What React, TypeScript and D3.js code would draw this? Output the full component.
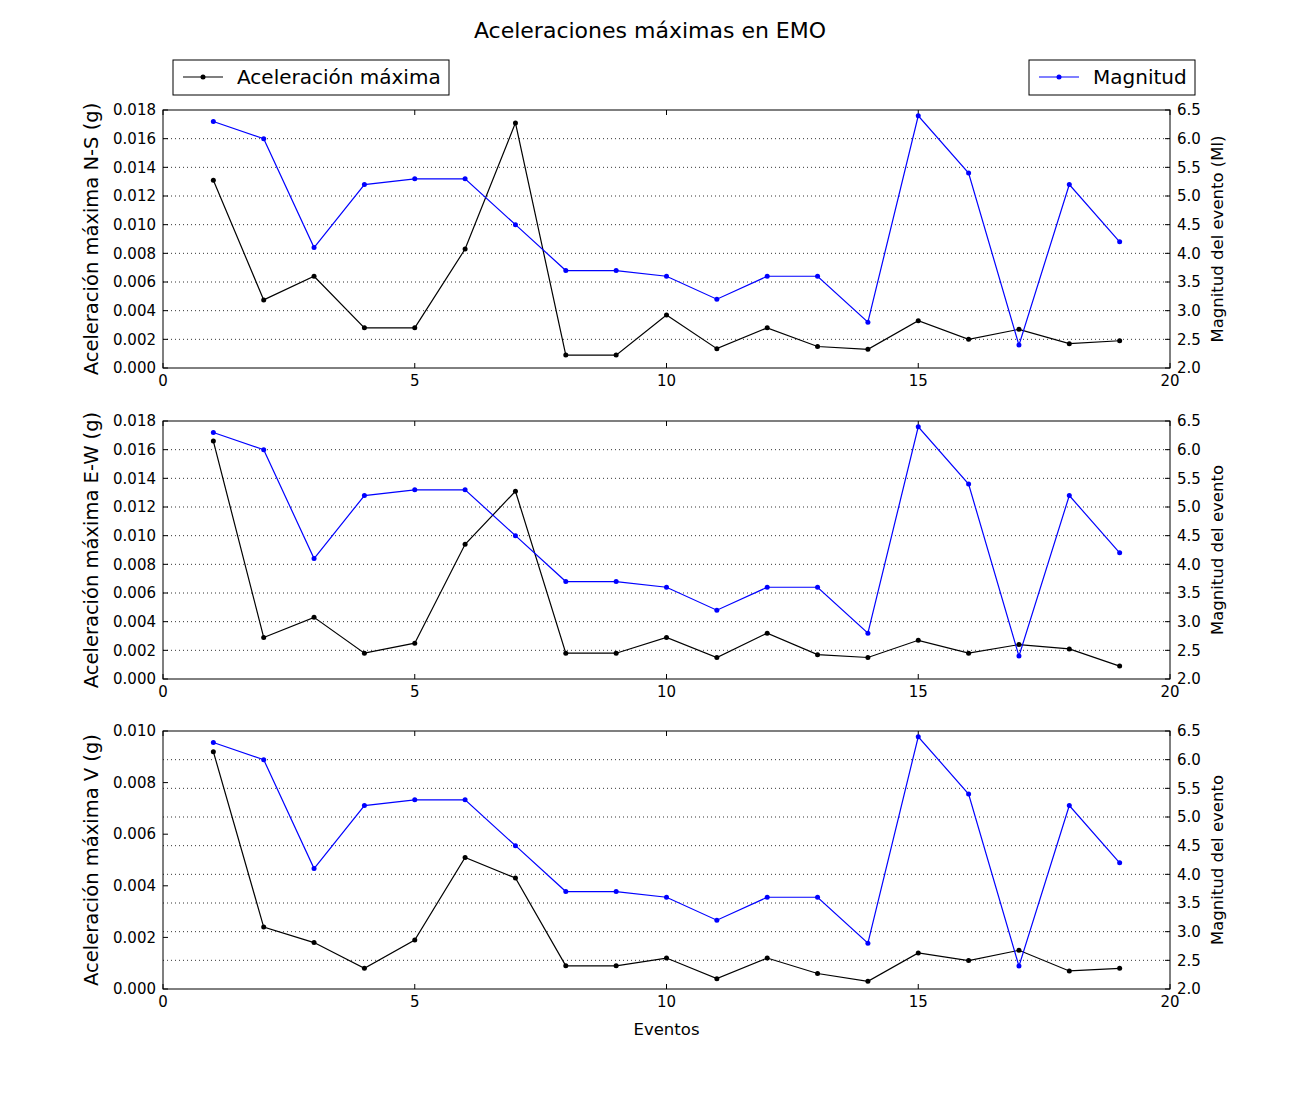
import React, { useEffect, useRef } from "react";
import * as d3 from "d3";

// event numbers along the x axis
const eventos = [1, 2, 3, 4, 5, 6, 7, 8, 9, 10, 11, 12, 13, 14, 15, 16, 17, 18, 19];

// magnitude of each event (Ml), same in every panel
const magnitud = [6.3, 6.0, 4.1, 5.2, 5.3, 5.3, 4.5, 3.7, 3.7, 3.6, 3.2, 3.6, 3.6, 2.8, 6.4, 5.4, 2.4, 5.2, 4.2];

// peak accelerations (g)
const accNS = [0.0131, 0.00475, 0.0064, 0.0028, 0.0028, 0.0083, 0.0171, 0.0009, 0.0009, 0.0037, 0.00135, 0.0028, 0.0015, 0.0013, 0.0033, 0.002, 0.0027, 0.0017, 0.0019];
const accEW = [0.0166, 0.0029, 0.0043, 0.0018, 0.0025, 0.0094, 0.0131, 0.0018, 0.0018, 0.0029, 0.0015, 0.0032, 0.0017, 0.0015, 0.0027, 0.0018, 0.0024, 0.0021, 0.0009];
const accV = [0.0092, 0.0024, 0.0018, 0.0008, 0.0019, 0.0051, 0.0043, 0.0009, 0.0009, 0.0012, 0.0004, 0.0012, 0.0006, 0.0003, 0.0014, 0.0011, 0.0015, 0.0007, 0.0008];

const leftLabels = ["Aceleración máxima N-S (g)", "Aceleración máxima E-W (g)", "Aceleración máxima V (g)"];
const rightLabels = ["Magnitud del evento (Ml)", "Magnitud del evento", "Magnitud del evento"];
const leftMax = [0.018, 0.018, 0.01];

const FONT = "DejaVu Sans, sans-serif";

const App = () => {
  const ref: any = useRef();

  const width = 1300;
  const height = 1100;
  const left = 163;
  const right = 1170;
  const panelTops = [110, 421, 731];
  const panelH = 258;

  useEffect(() => {
    const svg = d3.select(ref.current);
    svg.selectAll("*").remove();

    svg
      .append("text")
      .attr("x", 650)
      .attr("y", 38)
      .attr("text-anchor", "middle")
      .style("font-family", FONT)
      .style("font-size", "22px")
      .text("Aceleraciones máximas en EMO");

    const xScale = d3.scaleLinear().domain([0, 20]).range([left, right]);
    const series = [accNS, accEW, accV];

    series.forEach((acc, i) => {
      const top = panelTops[i];
      const bottom = top + panelH;
      const g = svg.append("g");

      const yLeft = d3.scaleLinear().domain([0, leftMax[i]]).range([bottom, top]);
      const yRight = d3.scaleLinear().domain([2.0, 6.5]).range([bottom, top]);

      // dotted grid from the magnitude axis
      g.append("g")
        .selectAll("line")
        .data(d3.range(2.5, 6.5, 0.5))
        .join("line")
        .attr("x1", left)
        .attr("x2", right)
        .attr("y1", (d: number) => yRight(d))
        .attr("y2", (d: number) => yRight(d))
        .attr("stroke", "#000")
        .attr("stroke-width", 0.8)
        .attr("stroke-dasharray", "1,3");

      // left axis
      const leftTicks = d3.range(0, leftMax[i] + 1e-9, 0.002);
      const la = g.append("g");
      la.selectAll("line")
        .data(leftTicks)
        .join("line")
        .attr("x1", left)
        .attr("x2", left + 5)
        .attr("y1", (d: number) => yLeft(d))
        .attr("y2", (d: number) => yLeft(d))
        .attr("stroke", "#000");
      la.selectAll("text")
        .data(leftTicks)
        .join("text")
        .attr("x", left - 7)
        .attr("y", (d: number) => yLeft(d))
        .attr("dy", "0.35em")
        .attr("text-anchor", "end")
        .style("font-family", FONT)
        .style("font-size", "15px")
        .text((d: number) => d3.format(".3f")(d));

      // right axis
      const rightTicks = d3.range(2.0, 6.5 + 1e-9, 0.5);
      const ra = g.append("g");
      ra.selectAll("line")
        .data(rightTicks)
        .join("line")
        .attr("x1", right - 5)
        .attr("x2", right)
        .attr("y1", (d: number) => yRight(d))
        .attr("y2", (d: number) => yRight(d))
        .attr("stroke", "#000");
      ra.selectAll("text")
        .data(rightTicks)
        .join("text")
        .attr("x", right + 7)
        .attr("y", (d: number) => yRight(d))
        .attr("dy", "0.35em")
        .style("font-family", FONT)
        .style("font-size", "15px")
        .text((d: number) => d3.format(".1f")(d));

      // x axis ticks top and bottom
      const xTicks = [0, 5, 10, 15, 20];
      const xa = g.append("g");
      xa.selectAll("line.b")
        .data(xTicks)
        .join("line")
        .attr("class", "b")
        .attr("x1", (d: number) => xScale(d))
        .attr("x2", (d: number) => xScale(d))
        .attr("y1", bottom)
        .attr("y2", bottom - 5)
        .attr("stroke", "#000");
      xa.selectAll("line.t")
        .data(xTicks)
        .join("line")
        .attr("class", "t")
        .attr("x1", (d: number) => xScale(d))
        .attr("x2", (d: number) => xScale(d))
        .attr("y1", top)
        .attr("y2", top + 5)
        .attr("stroke", "#000");
      xa.selectAll("text")
        .data(xTicks)
        .join("text")
        .attr("x", (d: number) => xScale(d))
        .attr("y", bottom + 18)
        .attr("text-anchor", "middle")
        .style("font-family", FONT)
        .style("font-size", "15px")
        .text((d: number) => d);

      // acceleration line
      const lineAcc = d3
        .line<number>()
        .x((_d, j) => xScale(eventos[j]))
        .y((d) => yLeft(d));
      g.append("path")
        .datum(acc)
        .attr("d", lineAcc)
        .attr("fill", "none")
        .attr("stroke", "#000")
        .attr("stroke-width", 1.2);
      g.append("g")
        .selectAll("circle")
        .data(acc)
        .join("circle")
        .attr("cx", (_d: number, j: number) => xScale(eventos[j]))
        .attr("cy", (d: number) => yLeft(d))
        .attr("r", 2.5)
        .attr("fill", "#000");

      // magnitude line
      const lineMag = d3
        .line<number>()
        .x((_d, j) => xScale(eventos[j]))
        .y((d) => yRight(d));
      g.append("path")
        .datum(magnitud)
        .attr("d", lineMag)
        .attr("fill", "none")
        .attr("stroke", "#0000ff")
        .attr("stroke-width", 1.2);
      g.append("g")
        .selectAll("circle")
        .data(magnitud)
        .join("circle")
        .attr("cx", (_d: number, j: number) => xScale(eventos[j]))
        .attr("cy", (d: number) => yRight(d))
        .attr("r", 2.5)
        .attr("fill", "#0000ff");

      // frame
      g.append("rect")
        .attr("x", left)
        .attr("y", top)
        .attr("width", right - left)
        .attr("height", panelH)
        .attr("fill", "none")
        .attr("stroke", "#000")
        .attr("stroke-width", 1);

      // axis labels
      g.append("text")
        .attr("transform", `translate(98, ${top + panelH / 2}) rotate(-90)`)
        .attr("text-anchor", "middle")
        .style("font-family", FONT)
        .style("font-size", "19.5px")
        .text(leftLabels[i]);
      g.append("text")
        .attr("transform", `translate(1223, ${top + panelH / 2}) rotate(-90)`)
        .attr("text-anchor", "middle")
        .style("font-family", FONT)
        .style("font-size", "16.5px")
        .text(rightLabels[i]);
    });

    svg
      .append("text")
      .attr("x", xScale(10))
      .attr("y", 1035)
      .attr("text-anchor", "middle")
      .style("font-family", FONT)
      .style("font-size", "16.5px")
      .text("Eventos");

    // legends
    const legends = [
      { x: 173, w: 276, color: "#000", label: "Aceleración máxima" },
      { x: 1029, w: 166, color: "#0000ff", label: "Magnitud" },
    ];
    legends.forEach((l) => {
      const lg = svg.append("g");
      lg.append("rect")
        .attr("x", l.x)
        .attr("y", 60)
        .attr("width", l.w)
        .attr("height", 35)
        .attr("fill", "#fff")
        .attr("stroke", "#000");
      lg.append("line")
        .attr("x1", l.x + 10)
        .attr("x2", l.x + 50)
        .attr("y1", 77)
        .attr("y2", 77)
        .attr("stroke", l.color)
        .attr("stroke-width", 1.2);
      lg.append("circle")
        .attr("cx", l.x + 30)
        .attr("cy", 77)
        .attr("r", 2.5)
        .attr("fill", l.color);
      lg.append("text")
        .attr("x", l.x + 64)
        .attr("y", 77)
        .attr("dy", "0.35em")
        .style("font-family", FONT)
        .style("font-size", "20px")
        .text(l.label);
    });
  }, []);

  return (
    <div className="chart">
      <svg ref={ref} width={width} height={height} style={{ display: "block", marginTop: -8, marginLeft: -8, background: "#fff" }}></svg>
    </div>
  );
};

export default App;
